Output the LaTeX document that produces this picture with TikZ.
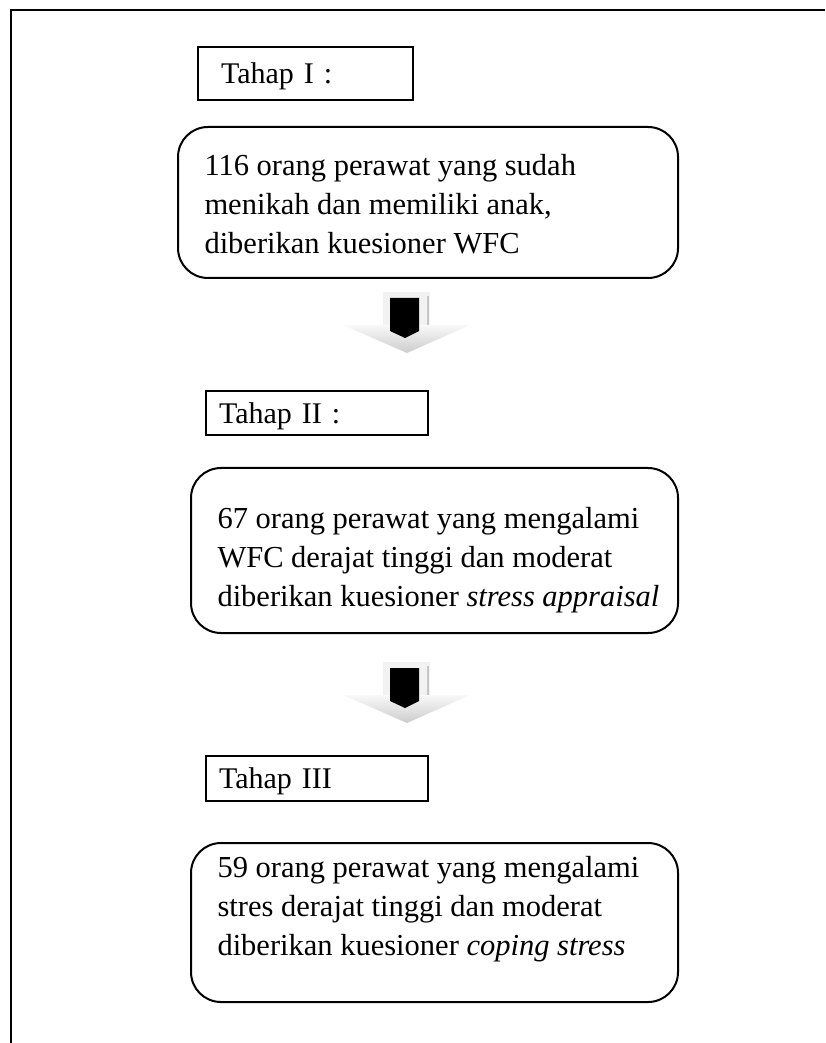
\documentclass[tikz,border=0pt]{standalone}
\usepackage{fontspec}
\setmainfont{Liberation Serif}
\usetikzlibrary{positioning}

\tikzset{
  tahapbox/.style={draw=black, line width=0.8pt, anchor=north west, align=left,
                   inner ysep=0pt, text depth=0pt, font=\fontsize{12}{15.6}\selectfont},
  roundbox/.style={draw=black, line width=0.8pt, anchor=north west, rounded corners=12pt,
                   inner sep=0pt},
  boxtext/.style={inner sep=0pt, align=left, font=\fontsize{12.2}{15.6}\selectfont},
}

\begin{document}
\begin{tikzpicture}[x=0.4pt, y=-0.4pt]
  \useasboundingbox (0,0) rectangle (825,1043);

  % frame (right and bottom sides cut off)
  \draw[line width=0.9pt] (11,1043) -- (11,10) -- (825,10);

  % tahap I
  \node[tahapbox, minimum width=86pt, minimum height=21.2pt, text width=67.6pt, inner xsep=9.2pt] (tahap1) at (197,46) {Tahap I :};
  \node[roundbox, minimum width=200pt, minimum height=60.4pt] (box1) at (177,126) {};
  \node[boxtext, right=10.8pt of box1.west, yshift=-0.8pt] (text1) {116 orang perawat yang sudah\\ menikah dan memiliki anak,\\ diberikan kuesioner WFC};

  % tahap II
  \node[tahapbox, minimum width=88.8pt, minimum height=17.6pt, text width=78.4pt, inner xsep=5.2pt] (tahap2) at (205,390) {Tahap II :};
  \node[roundbox, minimum width=194.8pt, minimum height=66pt] (box2) at (190,467) {};
  \node[boxtext, right=10.8pt of box2.west, yshift=-4pt] (text2) {67 orang perawat yang mengalami\\ WFC derajat tinggi dan moderat\\ diberikan kuesioner \textit{stress appraisal}};

  % tahap III
  \node[tahapbox, minimum width=88.8pt, minimum height=18pt, text width=78.4pt, inner xsep=5.2pt] (tahap3) at (205,755) {Tahap III};
  \node[roundbox, minimum width=194.8pt, minimum height=63.6pt] (box3) at (190,842) {};
  \node[boxtext, right=10.8pt of box3.west, yshift=5.2pt] (text3) {59 orang perawat yang mengalami\\ stres derajat tinggi dan moderat\\ diberikan kuesioner \textit{coping stress}};

  % block arrows between the stages
  \foreach \yo in {0,370} {
    \begin{scope}[yshift=-0.4pt*\yo]
      \fill[gray!10] (383,292) rectangle (430,325);
      \draw[gray!45, line width=0.6pt] (428,296) -- (428,325);
      \shade[top color=gray!5, bottom color=gray!40] (343,325) -- (470,325) -- (407,353) -- cycle;
      \fill[black] (390,298) -- (419,298) -- (419,331) -- (405,338) -- (390,331) -- cycle;
    \end{scope}
  }
\end{tikzpicture}
\end{document}
